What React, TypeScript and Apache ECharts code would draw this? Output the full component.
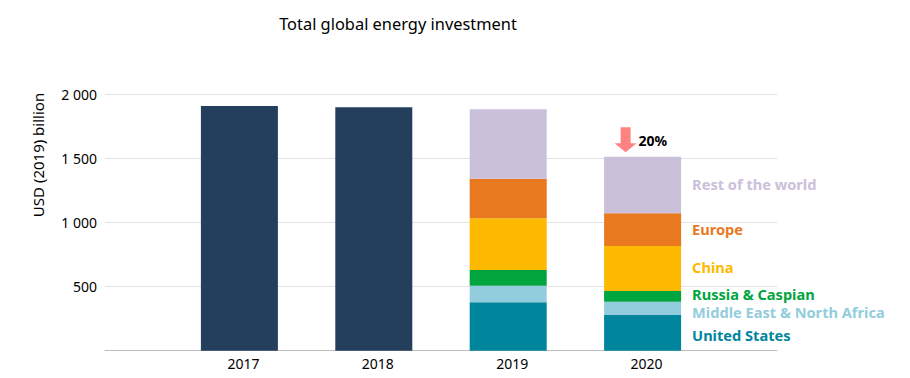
import React, { useEffect, useRef } from "react";
import * as echarts from "echarts";

const categories = ["", "2017", "2018", "2019", "2020", ""];
const totals = [null, 1909, 1899, null, null, null];
const unitedStates = [null, null, null, 378, 278, null];
const middleEast = [null, null, null, 129, 104, null];
const russia = [null, null, null, 123, 84, null];
const china = [null, null, null, 403, 351, null];
const europe = [null, null, null, 309, 255, null];
const restOfWorld = [null, null, null, 541, 441, null];
const yTicks = [0, 500, 1000, 1500, 2000];
const changeLabel = "20%";

const FONT = "'Noto Sans', 'Open Sans', sans-serif";

export default function App() {
  const ref = useRef<HTMLDivElement>(null);
  useEffect(() => {
    if (!ref.current) return;
    const chart = echarts.init(ref.current, null, { renderer: "svg" });
    const mk = (name: string, data: (number | null)[], color: string, labelOffset: number[] = [0, -1]) => ({
      name,
      type: "bar",
      stack: "total",
      barWidth: 77,
      data: data.map((v, i) =>
        i === 4 && v != null
          ? {
              value: v,
              label: {
                show: true,
                position: "right",
                distance: 11,
                offset: labelOffset,
                formatter: name,
                color,
                fontFamily: FONT,
                fontWeight: "bold",
                fontSize: 14.6,
              },
            }
          : v
      ),
      itemStyle: { color },
    });
    const totalSum = unitedStates[4]! + middleEast[4]! + russia[4]! + china[4]! + europe[4]! + restOfWorld[4]!;
    chart.setOption({
      animation: false,
      textStyle: { fontFamily: FONT },
      title: {
        text: "Total global energy investment",
        left: 393,
        top: 10,
        textAlign: "center",
        textStyle: { fontFamily: FONT, fontSize: 16.4, fontWeight: "normal", color: "#000" },
      },
      grid: { left: 105, right: 133, top: 94.3, bottom: 27.3, containLabel: false },
      xAxis: {
        type: "category",
        data: categories,
        boundaryGap: false,
        axisLine: { lineStyle: { color: "#bdbdbd", width: 1 } },
        axisTick: { show: false },
        axisLabel: { color: "#000", fontSize: 14, fontFamily: FONT, margin: 6, interval: 0, padding: [0, 0, 0, 8] },
      },
      yAxis: {
        type: "value",
        min: yTicks[0],
        max: yTicks[yTicks.length - 1],
        interval: 500,
        axisLine: { show: false },
        axisTick: { show: false },
        splitLine: { lineStyle: { color: "#e3e3e3", width: 1 } },
        axisLabel: {
          color: "#000",
          fontSize: 14,
          fontFamily: FONT,
          margin: 8,
          formatter: (v: number) => (v === 0 ? "" : v >= 1000 ? `${Math.floor(v / 1000)} ${String(v % 1000).padStart(3, "0")}` : String(v)),
        },
      },
      graphic: [
        {
          type: "text",
          x: 38,
          y: 155,
          rotation: Math.PI / 2,
          style: {
            text: "USD (2019) billion",
            fontFamily: FONT,
            fontSize: 15,
            fill: "#000",
            textAlign: "center",
            textVerticalAlign: "middle",
          },
        },
      ],
      series: [
        {
          name: "Total",
          type: "bar",
          stack: "total",
          barWidth: 77,
          data: totals,
          itemStyle: { color: "#243F5B" },
        },
        mk("United States", unitedStates, "#00869C", [0, 2]),
        mk("Middle East & North Africa", middleEast, "#92CDDD", [0, 4]),
        mk("Russia & Caspian", russia, "#00A53E", [0, -2]),
        mk("China", china, "#FDB900"),
        mk("Europe", europe, "#E8791F"),
        {
          ...mk("Rest of the world", restOfWorld, "#CAC0DA"),
          markPoint: {
            symbol: "path://M6,0 L16,0 L16,16 L22,16 L11,25 L0,16 L6,16 Z",
            symbolSize: [22, 25],
            symbolOffset: [-17, -17],
            itemStyle: { color: "#FF8282" },
            label: {
              show: true,
              position: "right",
              distance: 2,
              formatter: changeLabel,
              color: "#000",
              fontWeight: "bold",
              fontSize: 14,
              fontFamily: FONT,
              offset: [0, 1],
            },
            data: [{ coord: ["2020", totalSum] }],
          },
        },
      ],
    });
    return () => chart.dispose();
  }, []);
  return <div ref={ref} style={{ width: 910, height: 378, position: "absolute", left: 0, top: 0 }} />;
}
